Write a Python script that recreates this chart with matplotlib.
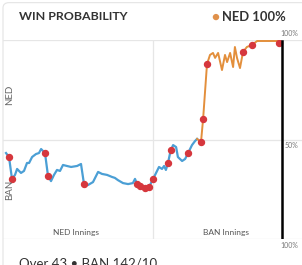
import matplotlib
matplotlib.use("Agg")
import matplotlib.pyplot as plt
from matplotlib.patches import FancyBboxPatch

plt.rcParams['font.family'] = ['Lato', 'DejaVu Sans']

# win probability for NED (%), by over (0-50 NED innings, 50-100 BAN innings)
ban_overs = [1.0, 2.0, 3.0, 4.0, 4.7, 6.0, 7.0, 8.0, 8.7, 9.7, 11.0, 12.0, 12.7, 14.0,
             15.0, 16.0, 17.0, 18.0, 19.0, 20.0, 21.3, 22.7, 24.7, 26.0, 27.0, 28.3,
             30.0, 31.7, 33.0, 34.7, 36.3, 37.3, 38.3, 40.0, 41.7, 43.3, 44.0, 44.7,
             45.7, 46.3, 47.3, 48.7, 50.0, 50.7, 52.0, 53.0, 53.7, 54.3, 55.0, 55.7,
             56.0, 56.7, 57.7, 58.3, 59.7, 60.7, 61.7, 63.0, 64.0, 64.7]
ban_prob = [43.2, 41.2, 30.2, 32.2, 35.2, 33.2, 34.2, 38.2, 38.2, 41.2, 42.7, 43.2, 45.2, 43.2,
            31.7, 29.1, 32.2, 34.7, 34.2, 37.2, 36.7, 36.2, 36.7, 37.7, 27.6, 27.1,
            28.6, 33.7, 32.7, 32.2, 31.2, 30.7, 29.6, 28.1, 27.6, 28.1, 30.2, 27.6,
            26.6, 25.6, 25.6, 26.1, 30.2, 32.2, 36.2, 35.2, 36.7, 34.7, 38.2, 43.2,
            44.7, 47.2, 46.2, 41.2, 39.2, 40.2, 43.2, 47.2, 49.2, 50.3]
ned_overs = [64.7, 66.0, 66.7, 68.0, 69.0, 70.0, 70.7, 71.7, 73.0, 74.0, 74.7, 75.7,
             76.7, 77.3, 78.0, 79.0, 80.0, 81.3, 83.0, 84.7, 92.0]
ned_prob = [50.3, 48.7, 60.3, 87.9, 92.5, 93.5, 91.0, 93.5, 84.9, 92.5, 88.9, 93.5,
            86.4, 96.5, 91.0, 85.9, 94.0, 96.5, 97.5, 99.5, 99.5]
wkt_overs = [2.0, 3.0, 14.0, 15.0, 27.0, 44.7, 45.7, 47.3, 48.7, 50.0, 55.0, 56.0,
             61.7, 66.0, 66.7, 68.0, 80.0, 83.0, 92.0]
wkt_prob = [41.2, 30.2, 43.2, 31.7, 27.6, 27.6, 26.6, 25.6, 26.1, 30.2, 38.2, 44.7,
            43.2, 48.7, 60.3, 87.9, 94.0, 97.5, 98.6]
end_over = 93

W, H = 302, 265
fig = plt.figure(figsize=(W / 100, H / 100), dpi=100)

# card
card = FancyBboxPatch((3 / W, -0.2), 1.2, 1.19, boxstyle="round,pad=0,rounding_size=0.02",
                      transform=fig.transFigure, fc="white", ec="#e4e4e4", lw=0.8, zorder=-10)
fig.patches.append(card)

ax = fig.add_axes([3 / W, 26 / H, 300 / W, 199 / H])
ax.set_xlim(0, 100)
ax.set_ylim(0, 100)
ax.axis('off')
for yv in (0, 50, 100):
    ax.axhline(yv, color="#e6e6e6", lw=0.9, zorder=0)
ax.axvline(50, color="#e6e6e6", lw=0.9, zorder=0)

ax.plot(ban_overs, ban_prob, color="#4b9fd5", lw=1.6, zorder=2, solid_joinstyle='round')
ax.plot(ned_overs, ned_prob, color="#e38f3c", lw=1.4, zorder=2, solid_joinstyle='round')
ax.plot(wkt_overs, wkt_prob, 'o', color="#d6373d", ms=4.3, mec="#d6373d", zorder=3)
ax.plot([end_over, end_over], [0, 99.5], color="black", lw=1.8, zorder=4)

def ftext(x, y, s, **kw):
    fig.text(x / W, 1 - y / H, s, **kw)

ftext(19, 17, "WIN PROBABILITY", fontsize=8.9, fontweight='bold', color="#333333", va='center')
ftext(215, 17, "●", fontsize=9.5, color="#e0914b", va='center', ha='center')
ftext(222, 17, "NED 100%", fontsize=9.4, fontweight='bold', color="#333333", va='center')

ftext(298, 34, "100%", fontsize=5, color="#777777", ha='right', va='center')
ftext(298, 146, "50%", fontsize=5, color="#777777", ha='right', va='center')
ftext(298, 245, "100%", fontsize=5, color="#777777", ha='right', va='center')

ftext(10, 95, "NED", fontsize=7, color="#666666", rotation=90, ha='center', va='center')
ftext(10, 190, "BAN", fontsize=7, color="#666666", rotation=90, ha='center', va='center')
ftext(76, 233, "NED Innings", fontsize=6, color="#555555", ha='center', va='center')
ftext(226, 233, "BAN Innings", fontsize=6, color="#555555", ha='center', va='center')

ftext(19, 257, "Over 43 • BAN 142/10", fontsize=9.5, color="#333333", va='top')

fig.savefig("out.png", dpi=100)
